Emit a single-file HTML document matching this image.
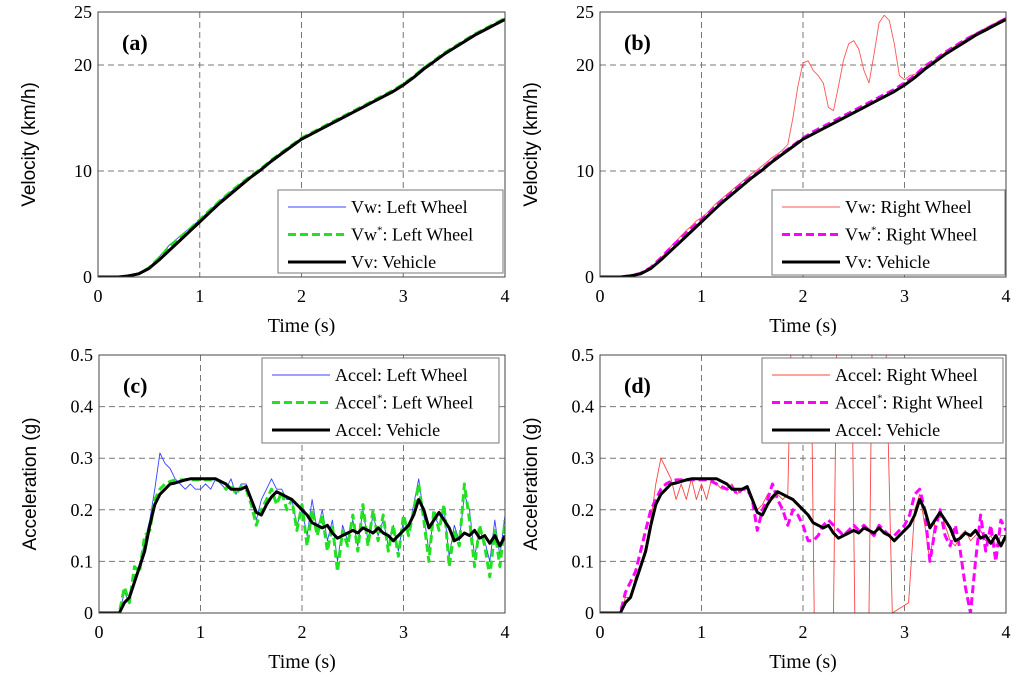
<!DOCTYPE html>
<html><head><meta charset="utf-8"><style>
html,body{margin:0;padding:0;background:#fff;overflow:hidden;width:1024px;height:674px}
svg{display:block;overflow:hidden}
text{font-family:"Liberation Serif",serif;fill:#000}
</style></head><body>
<svg id="c" width="1024" height="674" viewBox="0 0 1024 674" xmlns="http://www.w3.org/2000/svg"></svg>
<script>
// ---- data ----
const tVel = [0,0.1,0.2,0.3,0.4,0.5,0.6,0.7,0.8,0.9,1.0,1.1,1.2,1.3,1.4,1.5,1.6,1.7,1.8,1.9,2.0,2.1,2.2,2.3,2.4,2.5,2.6,2.7,2.8,2.9,3.0,3.1,3.2,3.3,3.4,3.5,3.6,3.7,3.8,3.9,4.0];
const vVehicle = [0,0,0,0.1,0.3,0.8,1.6,2.5,3.4,4.3,5.2,6.1,7.0,7.8,8.6,9.4,10.1,10.9,11.6,12.3,13.0,13.5,14.0,14.5,15.0,15.5,16.0,16.5,17.0,17.5,18.1,18.8,19.6,20.3,21.0,21.6,22.2,22.8,23.3,23.8,24.3];
const vwLeft = [0,0,0,0.1,0.3,0.9,1.9,3.0,3.8,4.6,5.4,6.3,7.2,8.0,8.8,9.5,10.2,11.0,11.7,12.4,13.1,13.6,14.1,14.6,15.1,15.6,16.1,16.6,17.1,17.6,18.2,18.9,19.8,20.4,21.1,21.7,22.3,22.9,23.4,23.9,24.4];
const vwStarLeft = [0,0,0,0.1,0.3,0.85,1.8,2.8,3.7,4.5,5.4,6.3,7.2,8.0,8.8,9.5,10.2,11.0,11.7,12.4,13.1,13.6,14.1,14.6,15.1,15.6,16.1,16.6,17.1,17.6,18.2,18.9,19.7,20.4,21.1,21.7,22.3,22.9,23.4,23.9,24.4];
const vwStarRight = [0,0,0,0.1,0.35,0.9,1.8,2.8,3.7,4.6,5.4,6.3,7.2,8.0,8.8,9.5,10.2,11.0,11.7,12.4,13.1,13.7,14.2,14.7,15.2,15.7,16.2,16.7,17.2,17.7,18.3,19.0,19.9,20.5,21.2,21.8,22.4,22.9,23.4,23.9,24.4];
const tFine = Array.from({length:81},(_, i)=>i/20);
const vwRight = [0,0,0,0,0,0,0.1,0.2,0.3,0.5,0.9,1.3,1.8,2.3,2.9,3.4,3.9,4.4,4.8,5.3,5.6,6.0,6.5,7.0,7.4,7.8,8.2,8.6,9.0,9.4,9.8,10.1,10.5,10.9,11.3,11.6,12.0,12.5,15,18,20.2,20.4,19.5,19.0,18.3,16,15.7,18,20.5,22,22.3,21.5,19.5,18.3,21,24,24.7,24.2,22,19,18.6,19.0,19.1,19.4,19.8,20.1,20.5,20.8,21.2,21.5,21.8,22.1,22.4,22.7,23.0,23.2,23.5,23.7,24.0,24.2,24.5];
const aVehicle = [0,0,0,0,0,0.02,0.03,0.06,0.09,0.12,0.17,0.21,0.23,0.24,0.25,0.252,0.255,0.258,0.26,0.26,0.26,0.26,0.26,0.26,0.255,0.25,0.24,0.24,0.24,0.245,0.22,0.195,0.19,0.21,0.225,0.235,0.23,0.225,0.22,0.21,0.20,0.19,0.175,0.17,0.165,0.17,0.155,0.145,0.15,0.155,0.16,0.155,0.165,0.16,0.155,0.165,0.155,0.15,0.14,0.15,0.16,0.17,0.19,0.22,0.20,0.165,0.18,0.195,0.18,0.165,0.14,0.145,0.155,0.15,0.16,0.145,0.15,0.135,0.15,0.13,0.15];
const aStarLeft = [0,0,0,0,0,0.05,0.02,0.09,0.08,0.15,0.16,0.22,0.24,0.25,0.255,0.258,0.258,0.258,0.258,0.258,0.258,0.258,0.258,0.258,0.255,0.24,0.25,0.23,0.245,0.24,0.21,0.17,0.2,0.22,0.24,0.21,0.235,0.2,0.22,0.16,0.21,0.13,0.2,0.15,0.19,0.12,0.17,0.08,0.16,0.13,0.19,0.12,0.21,0.13,0.2,0.14,0.19,0.12,0.17,0.11,0.19,0.15,0.2,0.25,0.18,0.1,0.2,0.16,0.21,0.09,0.16,0.13,0.25,0.18,0.09,0.17,0.13,0.07,0.16,0.09,0.18];
const aLeft = [0,0,0,0,0,0.04,0.02,0.07,0.09,0.14,0.18,0.24,0.31,0.29,0.28,0.26,0.25,0.24,0.25,0.24,0.24,0.25,0.24,0.26,0.25,0.24,0.26,0.23,0.25,0.25,0.22,0.18,0.22,0.24,0.26,0.24,0.24,0.22,0.22,0.17,0.2,0.15,0.22,0.16,0.2,0.14,0.18,0.1,0.17,0.14,0.18,0.13,0.2,0.14,0.19,0.15,0.18,0.13,0.17,0.12,0.18,0.16,0.21,0.26,0.19,0.12,0.19,0.17,0.2,0.11,0.17,0.14,0.23,0.2,0.11,0.16,0.14,0.1,0.18,0.11,0.19];
const aStarRight = [0,0,0,0,0,0.04,0.06,0.08,0.12,0.16,0.2,0.22,0.24,0.25,0.255,0.258,0.258,0.258,0.258,0.258,0.258,0.258,0.255,0.25,0.245,0.24,0.245,0.23,0.24,0.24,0.22,0.16,0.2,0.22,0.25,0.22,0.2,0.17,0.2,0.19,0.17,0.14,0.14,0.15,0.17,0.18,0.17,0.16,0.15,0.16,0.17,0.16,0.17,0.16,0.15,0.17,0.16,0.15,0.15,0.16,0.17,0.19,0.23,0.24,0.2,0.1,0.16,0.2,0.15,0.13,0.17,0.12,0.05,0.0,0.1,0.19,0.12,0.17,0.1,0.18,0.16];
const tRightAcc = [0,0.05,0.1,0.15,0.2,0.25,0.3,0.35,0.4,0.45,0.5,0.55,0.6,0.65,0.7,0.75,0.8,0.85,0.9,0.95,1.0,1.05,1.1,1.15,1.2,1.25,1.3,1.35,1.4,1.45,1.5,1.55,1.6,1.65,1.7,1.75,1.8,1.85,1.88,2.08,2.11,2.3,2.33,2.48,2.51,2.65,2.68,2.82,2.88,3.04,3.1,3.15,3.2,3.25,3.3,3.35,3.4,3.45,3.5,3.55,3.6,3.65,3.7,3.75,3.8,3.85,3.9,3.95,4.0];
const aRight = [0,0,0,0,0,0.03,0.03,0.07,0.09,0.13,0.18,0.25,0.3,0.28,0.26,0.22,0.25,0.22,0.26,0.22,0.25,0.22,0.26,0.25,0.24,0.24,0.25,0.23,0.24,0.24,0.22,0.2,0.21,0.23,0.22,0.23,0.22,0.23,0.5,0.5,0,0,0.5,0.5,0,0,0.5,0.5,0.0,0.02,0.2,0.23,0.17,0.1,0.18,0.2,0.17,0.14,0.13,0.15,0.16,0.14,0.15,0.16,0.14,0.15,0.13,0.15,0.15];
const xTicks = [0,1,2,3,4];
const velTicks = [0,10,20,25];
const accTicks = [0,0.1,0.2,0.3,0.4,0.5];

const NS='http://www.w3.org/2000/svg';
const svg=document.getElementById('c');
function mk(tag,attrs,parent){const e=document.createElementNS(NS,tag);for(const k in attrs)e.setAttribute(k,attrs[k]);(parent||svg).appendChild(e);return e;}

function panel(p){
  const g=mk('g',{});
  
  
  const L=p.L,R=p.R,T=p.T,B=p.B;
  const sx=v=>L+(v-0)/(4-0)*(R-L);
  const sy=v=>B-(v-p.ymin)/(p.ymax-p.ymin)*(B-T);
  const cid='clip'+p.name;
  const cp=mk('clipPath',{id:cid},g); mk('rect',{x:L,y:T,width:R-L,height:B-T},cp);
  xTicks.forEach(t=>{
    if(t>0&&t<4){const l=mk('line',{x1:sx(t),x2:sx(t),y1:T,y2:B,stroke:'#777','stroke-width':1,'stroke-dasharray':'6,4'},g);
    
    }
    const tx=mk('text',{x:sx(t),y:B+25,'font-size':18,'text-anchor':'middle'},g);tx.textContent=t;
    
    
  });
  p.yticks.forEach(t=>{
    if(t>p.ymin&&t<p.ymax){const l=mk('line',{x1:L,x2:R,y1:sy(t),y2:sy(t),stroke:'#777','stroke-width':1,'stroke-dasharray':'6,4'},g);
    
    }
    const tx=mk('text',{x:L-6,y:sy(t)+6,'font-size':18,'text-anchor':'end'},g);tx.textContent=t;
    
    
  });
  p.series.forEach(s=>{
    const d=s.y.map((v,i)=>(i?'L':'M')+sx(s.x[i]).toFixed(1)+','+sy(v).toFixed(1)).join('');
    const a={d:d,fill:'none',stroke:s.c,'stroke-width':s.w,'clip-path':'url(#'+cid+')','stroke-linejoin':'round'};
    if(s.dash)a['stroke-dasharray']=s.dash;
    const pe=mk('path',a,g);
    
    
  });
  const fr=mk('rect',{x:L,y:T,width:R-L,height:B-T,fill:'none',stroke:'#444','stroke-width':1},g);
  
  
  const pl=mk('text',{x:L+24,y:T+38,'font-size':22,'font-weight':'bold'},g);pl.textContent=p.label;
  
  
  const xl=mk('text',{x:(L+R)/2,y:B+55,'font-size':20,'text-anchor':'middle'},g);xl.textContent='Time (s)';
  
  
  const yl=mk('text',{x:0,y:0,'font-size':19,'text-anchor':'middle',transform:'translate('+(L-63)+','+((T+B)/2)+') rotate(-90)',style:'font-family:"Liberation Sans",sans-serif'},g);yl.textContent=p.ytitle;
  
  
  const lg=mk('g',{},g);
  
  
  const b=p.leg;
  mk('rect',{x:b.x,y:b.y,width:b.w,height:b.h,fill:'#fff',stroke:'#777','stroke-width':1},lg);
  p.series.forEach((s,i)=>{
    const yy=b.y+17+i*27.5;
    const la={x1:b.x+10,x2:b.x+68,y1:yy,y2:yy,stroke:s.c,'stroke-width':s.w};
    if(s.dash)la['stroke-dasharray']=s.dash;
    mk('line',la,lg);
    const t=mk('text',{x:b.x+73,y:yy+6,'font-size':18},lg);
    t.innerHTML=s.lab;
    
    
  });
}
const sup='<tspan dy="-7" font-size="11">*</tspan><tspan dy="7">';
panel({name:'panel-a',label:'(a)',L:98,R:505,T:12,B:277,ymin:0,ymax:25,yticks:velTicks,ytitle:'Velocity (km/h)',
  leg:{x:278,y:190,w:225,h:83},
  series:[{id:'vw-left-wheel',x:tVel,y:vwLeft,c:'#3344ff',w:0.9,lab:'Vw: Left Wheel'},
          {id:'vw-star-left-wheel',x:tVel,y:vwStarLeft,c:'#22e022',w:3,dash:'8,4',lab:'Vw'+sup+': Left Wheel</tspan>'},
          {id:'vv-vehicle',x:tVel,y:vVehicle,c:'#000',w:3,lab:'Vv: Vehicle'}]});
panel({name:'panel-b',label:'(b)',L:600,R:1006,T:12,B:277,ymin:0,ymax:25,yticks:velTicks,ytitle:'Velocity (km/h)',
  leg:{x:772,y:190,w:233,h:85},
  series:[{id:'vw-right-wheel',x:tFine,y:vwRight,c:'#ff5555',w:0.9,lab:'Vw: Right Wheel'},
          {id:'vw-star-right-wheel',x:tVel,y:vwStarRight,c:'#ff00ff',w:3,dash:'8,4',lab:'Vw'+sup+': Right Wheel</tspan>'},
          {id:'vv-vehicle',x:tVel,y:vVehicle,c:'#000',w:3,lab:'Vv: Vehicle'}]});
panel({name:'panel-c',label:'(c)',L:99,R:505,T:355,B:613,ymin:0,ymax:0.5,yticks:accTicks,ytitle:'Acceleration (g)',
  leg:{x:262,y:358,w:237,h:85},
  series:[{id:'accel-left-wheel',x:tFine,y:aLeft,c:'#3344ff',w:0.9,lab:'Accel: Left Wheel'},
          {id:'accel-star-left-wheel',x:tFine,y:aStarLeft,c:'#22e022',w:3,dash:'8,4',lab:'Accel'+sup+': Left Wheel</tspan>'},
          {id:'accel-vehicle',x:tFine,y:aVehicle,c:'#000',w:3,lab:'Accel: Vehicle'}]});
panel({name:'panel-d',label:'(d)',L:600,R:1006,T:355,B:613,ymin:0,ymax:0.5,yticks:accTicks,ytitle:'Acceleration (g)',
  leg:{x:762,y:358,w:241,h:85},
  series:[{id:'accel-right-wheel',x:tRightAcc,y:aRight,c:'#ff4444',w:0.9,lab:'Accel: Right Wheel'},
          {id:'accel-star-right-wheel',x:tFine,y:aStarRight,c:'#ff00ff',w:3,dash:'8,4',lab:'Accel'+sup+': Right Wheel</tspan>'},
          {id:'accel-vehicle',x:tFine,y:aVehicle,c:'#000',w:3,lab:'Accel: Vehicle'}]});
</script>
</body></html>
